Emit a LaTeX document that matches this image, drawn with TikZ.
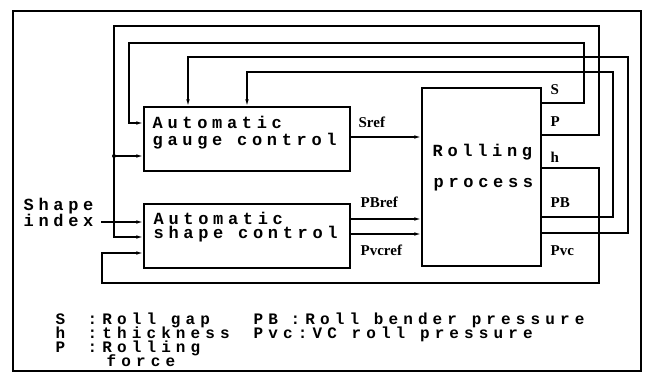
\documentclass[tikz,border=0pt]{standalone}
\usepackage{fontspec}
\newfontfamily\boxfont{Liberation Mono}[LetterSpace=27.5]
\newfontfamily\legfont{Liberation Mono}[LetterSpace=32]
\newfontfamily\lblfont{Liberation Serif}
\usetikzlibrary{arrows.meta}
\begin{document}
\begin{tikzpicture}[x=1pt,y=-1pt,
  line width=1.3pt,
  box/.style={draw,rectangle,inner sep=0pt,line width=1.4pt},
  arr/.style={-{Latex[length=7pt,width=3.6pt]}},
  btxt/.style={anchor=base west,inner sep=0pt,text height=10pt,text depth=2pt,font=\boxfont\bfseries\fontsize{17}{17}\selectfont},
  ltxt/.style={anchor=base west,inner sep=0pt,text height=9pt,text depth=2pt,font=\legfont\bfseries\fontsize{16}{16}\selectfont},
  lbl/.style={anchor=base west,inner sep=0pt,font=\lblfont\bfseries\fontsize{15}{15}\selectfont}]
\useasboundingbox (0,0) rectangle (650,379);
% frame
\draw[line width=1.4pt] (13,11) rectangle (641,371);
% boxes
\node[box,minimum width=206pt,minimum height=64pt] (agc) at (247,139) {};
\node[box,minimum width=206pt,minimum height=64pt] (asc) at (247,236) {};
\node[box,minimum width=119pt,minimum height=178pt] (rp) at (481.5,177) {};
% box texts
\node[btxt] (agc1) at (152,129) {Automatic};
\node[btxt] (agc2) at (152,146) {gauge control};
\node[btxt] (asc1) at (153,225) {Automatic};
\node[btxt] (asc2) at (153,239) {shape control};
\node[btxt] (rp1) at (432,157) {Rolling};
\node[btxt] (rp2) at (433,188) {process};
\node[btxt] (si1) at (23,211) {Shape};
\node[btxt] (si2) at (23,227) {index};
% signal labels
\node[lbl] (lsref) at (358,128) {Sref};
\node[lbl] (lpbref) at (360,208) {PBref};
\node[lbl] (lpvcref) at (360,255) {Pvcref};
\node[lbl] (ls) at (550,95) {S};
\node[lbl] (lp) at (550,127) {P};
\node[lbl] (lh) at (550,163) {h};
\node[lbl] (lpb) at (550,208) {PB};
\node[lbl] (lpvc) at (550,255) {Pvc};
% reference inputs
\draw[arr] (agc.east |- 0,137) -- (rp.west |- 0,137);
\draw[arr] (asc.east |- 0,219) -- (rp.west |- 0,219);
\draw[arr] (asc.east |- 0,234) -- (rp.west |- 0,234);
% shape index
\coordinate (sie) at (101,222);
\draw[arr] (sie) -- (asc.west |- sie);
% S feedback
\draw[arr] (rp.east |- 0,103) -- (584,103) -- (584,43) -- (129,43) -- (129,123) -- (agc.west |- 0,123);
% P feedback
\draw[arr] (rp.east |- 0,135) -- (599,135) -- (599,26) -- (114,26) -- (114,237) -- (asc.west |- 0,237);
\coordinate (pj) at (114,156);
\draw[arr] (pj) -- (agc.west |- pj);
\fill (pj) circle (2pt);
% h feedback
\draw[arr] (rp.east |- 0,168) -- (599,168) -- (599,283) -- (102,283) -- (102,253) -- (asc.west |- 0,253);
% PB feedback
\draw[arr] (rp.east |- 0,217) -- (613,217) -- (613,72) -- (247,72) -- (agc.north -| 247,0);
% Pvc feedback
\draw[arr] (rp.east |- 0,233) -- (628,233) -- (628,57) -- (188,57) -- (agc.north -| 188,0);
% legend
\node[ltxt] (lg1a) at (55,324) {S};
\node[ltxt] (lg1b) at (87,324) {:Roll gap};
\node[ltxt] (lg2a) at (55,338) {h};
\node[ltxt] (lg2b) at (87,338) {:thickness};
\node[ltxt] (lg3a) at (55,352) {P};
\node[ltxt] (lg3b) at (87,352) {:Rolling};
\node[ltxt] (lg4b) at (106,366) {force};
\node[ltxt] (lg5a) at (253,324) {PB};
\node[ltxt] (lg5b) at (290,324) {:Roll bender pressure};
\node[ltxt] (lg6a) at (253,338) {Pvc:VC roll pressure};
\end{tikzpicture}
\end{document}
